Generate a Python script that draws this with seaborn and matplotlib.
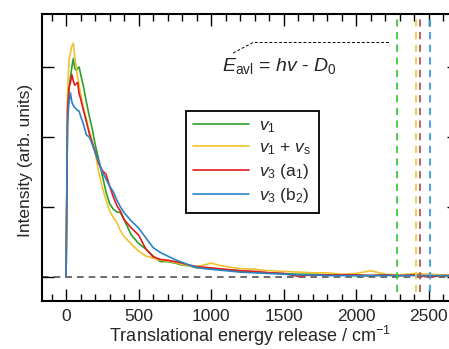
import numpy as np
import pandas as pd
import matplotlib
matplotlib.use("Agg")
import matplotlib.pyplot as plt
import seaborn as sns

# translational energy grid (cm^-1)
energy = [0, 10, 20, 30, 40, 50, 60, 70, 80, 90, 100, 120, 140, 160, 180, 200,
          225, 250, 275, 300, 325, 350, 375, 400, 450, 500, 550, 600, 650, 700,
          750, 800, 850, 900, 950, 1000, 1050, 1100, 1200, 1300, 1400, 1500,
          1600, 1700, 1800, 1900, 2000, 2100, 2200, 2300, 2400, 2500, 2600, 2700]

v1 = [0, 2.3, 2.7, 2.85, 3.0, 3.12, 2.98, 2.95, 2.98, 3.0, 2.9, 2.72, 2.5, 2.3,
      2.12, 1.9, 1.68, 1.45, 1.22, 1.05, 0.97, 0.93, 0.92, 0.82, 0.6, 0.48,
      0.4, 0.3, 0.22, 0.22, 0.2, 0.17, 0.16, 0.13, 0.13, 0.12, 0.11, 0.1,
      0.09, 0.07, 0.06, 0.05, 0.04, 0.04, 0.03, 0.03, 0.02, 0.02, 0.03, 0.02,
      0.03, 0.02, 0.02, 0.02]
v1_vs = [0, 2.6, 3.1, 3.2, 3.3, 3.34, 3.15, 3.0, 2.85, 2.75, 2.62, 2.42, 2.25,
         2.08, 1.95, 1.78, 1.5, 1.28, 1.1, 0.95, 0.85, 0.78, 0.66, 0.58, 0.47,
         0.37, 0.3, 0.27, 0.24, 0.23, 0.21, 0.18, 0.16, 0.15, 0.17, 0.2, 0.17,
         0.15, 0.12, 0.11, 0.09, 0.08, 0.07, 0.06, 0.06, 0.04, 0.05, 0.09, 0.04,
         0.03, 0.05, 0.04, 0.03, 0.03]
v3_a1 = [0, 2.4, 2.7, 2.78, 2.89, 2.8, 2.74, 2.76, 2.78, 2.62, 2.55, 2.38, 2.22,
         2.05, 1.92, 1.8, 1.62, 1.52, 1.47, 1.3, 1.15, 1.02, 0.94, 0.82, 0.7,
         0.6, 0.4, 0.29, 0.25, 0.24, 0.22, 0.2, 0.17, 0.15, 0.14, 0.13, 0.12,
         0.11, 0.09, 0.08, 0.06, 0.05, 0.01, 0.03, 0.03, 0.03, 0.03, 0.02, 0.03,
         0.02, 0.03, 0.0, 0.02, 0.02]
v3_b2 = [0, 2.2, 2.5, 2.63, 2.5, 2.45, 2.42, 2.4, 2.38, 2.37, 2.3, 2.18, 2.03,
         2.0, 1.9, 1.78, 1.65, 1.5, 1.4, 1.3, 1.22, 1.1, 1.0, 0.92, 0.8, 0.7,
         0.56, 0.42, 0.35, 0.3, 0.25, 0.21, 0.17, 0.14, 0.12, 0.11, 0.1, 0.09,
         0.07, 0.06, 0.05, 0.04, 0.03, 0.03, 0.02, 0.02, 0.02, 0.02, 0.02, 0.02,
         0.02, 0.02, 0.02, 0.02]

labels = [r"$v_1$", r"$v_1$ + $v_\mathrm{s}$", r"$v_3$ (a$_1$)", r"$v_3$ (b$_2$)"]
colors = ["#2ca02c", "#f2c12e", "#e41a1c", "#2b83c6"]
series = [v1, v1_vs, v3_a1, v3_b2]

# available energy for each band
e_avl = [2281, 2412, 2441, 2510]
e_avl_colors = ["#3ccc3c", "#e6cd50", "#c0504d", "#3a9be0"]

sns.set_theme(style="ticks")
plt.rcParams["font.family"] = ["Liberation Sans", "DejaVu Sans"]
plt.rcParams["mathtext.fontset"] = "custom"
plt.rcParams["mathtext.rm"] = "Liberation Sans"
plt.rcParams["mathtext.it"] = "Liberation Sans:italic"

fig = plt.figure(figsize=(4.49, 3.49), dpi=100)
ax = fig.add_axes([0.0929, 0.1375, 0.9294, 0.821])

for vals, lab, col in zip(series, labels, colors):
    sns.lineplot(x=energy, y=vals, color=col, label=lab, lw=1.2, ax=ax)

ax.axhline(0, color="#555555", lw=1.2, ls=(0, (4, 3)), zorder=0)
for xv, col in zip(e_avl, e_avl_colors):
    ax.vlines(xv, -0.21, 3.8, color=col, lw=1.3, ls=(0, (4, 3)))

# E_avl annotation
ax.plot([1152, 1290, 2234], [3.2, 3.35, 3.35], color="black", lw=0.7,
        ls=(0, (3, 2)))
ax.text(1470, 3.01, r"$E_\mathrm{avl}$ = $hv$ - $D_0$", fontsize=14,
        ha="center", va="center")

ax.set_xlim(-168, 2710)
ax.set_ylim(-0.343, 3.75)
ax.set_xticks([0, 500, 1000, 1500, 2000, 2500])
ax.set_xticks(np.arange(-100, 2701, 100), minor=True)
ax.set_yticks([0, 1, 2, 3])
ax.set_yticklabels([])
ax.tick_params(which="both", direction="in", top=True, right=True,
               width=1.0, color="black", labelsize=12.5, pad=6)
ax.tick_params(which="major", length=8.5)
ax.tick_params(which="minor", length=5)
ax.tick_params(axis="y", which="minor", left=False, right=False)
for sp in ax.spines.values():
    sp.set_linewidth(1.5)
    sp.set_color("black")

ax.set_xlabel(r"Translational energy release / cm$^{\mathrm{-1}}$",
              fontsize=13, labelpad=0)
ax.set_ylabel("Intensity (arb. units)", fontsize=12.5)
ax.yaxis.set_label_coords(-0.022, 0.49)

leg = ax.legend(loc="upper left", bbox_to_anchor=(0.394, 0.708),
                bbox_transform=fig.transFigure, fontsize=12.5, frameon=True,
                fancybox=False, edgecolor="black", framealpha=1,
                handlelength=3.2, labelspacing=0.28, borderpad=0.45,
                handletextpad=0.6)
leg.get_frame().set_linewidth(1.3)

fig.savefig("out.png", dpi=100)
